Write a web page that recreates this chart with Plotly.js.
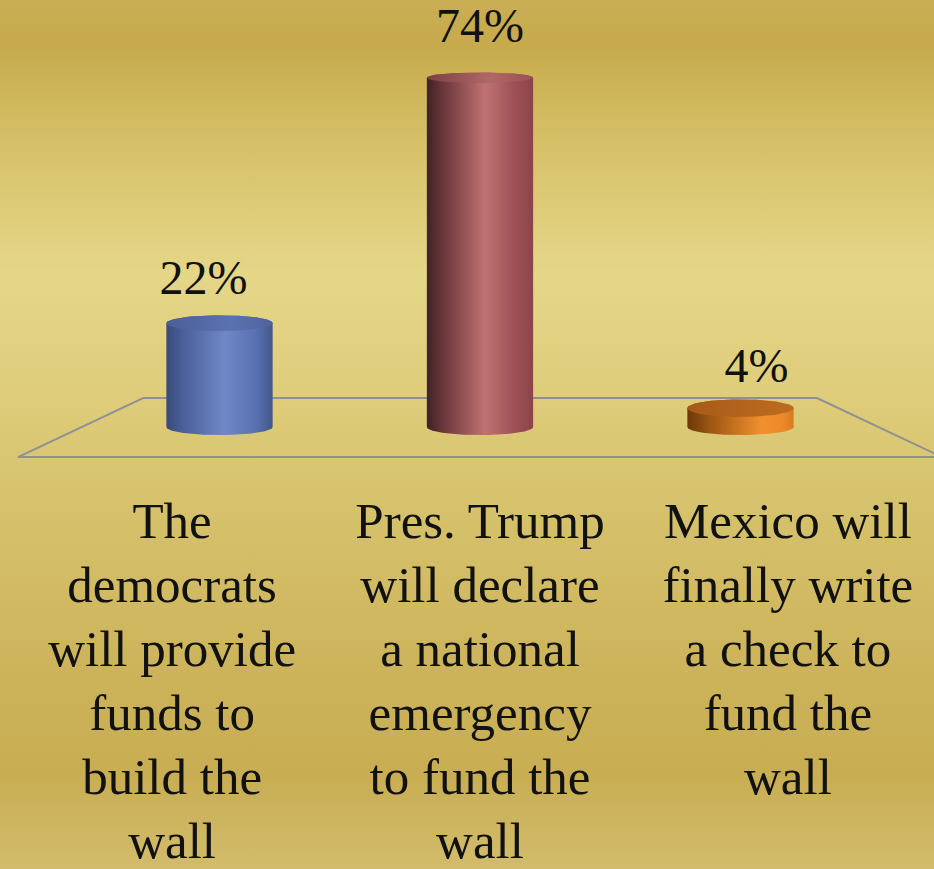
<!DOCTYPE html>
<html>
<head>
<meta charset="utf-8">
<script src="https://cdn.plot.ly/plotly-3.0.1.min.js"></script>
<style>html,body{margin:0;padding:0;background:#D5BF68;}#chart{width:934px;height:869px;}</style>
</head>
<body>
<div id="chart"></div>
<script>
// ---- data ----
const categories = [
  "The<br>democrats<br>will provide<br>funds to<br>build the<br>wall",
  "Pres. Trump<br>will declare<br>a national<br>emergency<br>to fund the<br>wall",
  "Mexico will<br>finally write<br>a check to<br>fund the<br>wall"
];
const values = [22, 74, 4];
const valueLabels = ["22%", "74%", "4%"];

// ---- styles ----
const bodyScales = [
  [[0,'#3A4A78'],[0.15,'#4A5E98'],[0.55,'#7088C8'],[0.85,'#5870B0'],[1,'#42578A']],
  [[0,'#3E2226'],[0.15,'#6A363A'],[0.55,'#C07272'],[0.8,'#A05358'],[1,'#8C4448']],
  [[0,'#6A3808'],[0.2,'#9A5412'],[0.7,'#F29030'],[0.9,'#EC8A28'],[1,'#D87A20']]
];
const capScales = [
  [[0,'#4A5F98'],[0.6,'#5A72B0'],[1,'#4E64A0']],
  [[0,'#7E4044'],[0.6,'#B06868'],[1,'#9A5054']],
  [[0,'#A85A18'],[1,'#BE6C20']]
];
const PXY = 4.72;           // pixels per y unit
const XR = [-0.8426, 2.7428];
const YR = [-93.64, 90.47];
const halfW = 0.204;

const traces = [];

// background gradient
traces.push({
  x: [XR[0], XR[1], XR[1], XR[0], XR[0]],
  y: [YR[0], YR[0], YR[1], YR[1], YR[0]],
  mode: 'lines', line: {width: 0}, fill: 'toself',
  fillgradient: {type: 'vertical', colorscale: [
    [0,'#D2BC6C'],[0.108,'#C8AD52'],[0.194,'#CBB158'],[0.356,'#D3BD66'],
    [0.471,'#D9C672'],[0.54,'#DECC7A'],[0.684,'#E5D688'],[0.827,'#D7C26A'],
    [0.948,'#C6AA4C'],[1,'#C9AE54']]},
  hoverinfo: 'skip'
});

// floor outline
const n = categories.length;
const backY = 6.14, frontY = -6.36;
traces.push({
  x: [-0.2937, n - 1 + 0.2937, n - 1 + 0.7735, -0.7735, -0.2937],
  y: [backY, backY, frontY, frontY, backY],
  mode: 'lines', line: {color: '#8E9096', width: 2}, hoverinfo: 'skip'
});

// cylinders
values.forEach((v, i) => {
  const ryB = 8 / PXY;
  const ryT = (9 - 0.05 * v) / PXY;
  const N = 60;
  const bx = [], by = [];
  for (let k = 0; k <= N; k++) {
    const t = Math.PI + Math.PI * k / N;
    bx.push(i + halfW * Math.cos(t));
    by.push(0 + ryB * Math.sin(t));
  }
  for (let k = 0; k <= N; k++) {
    const t = Math.PI * k / N;
    bx.push(i + halfW * Math.cos(t));
    by.push(v + ryT * Math.sin(t));
  }
  bx.push(bx[0]); by.push(by[0]);
  traces.push({
    x: bx, y: by, mode: 'lines', line: {width: 0}, fill: 'toself',
    fillgradient: {type: 'horizontal', colorscale: bodyScales[i]},
    hoverinfo: 'skip'
  });
  const cx = [], cy = [];
  for (let k = 0; k <= 2 * N; k++) {
    const t = 2 * Math.PI * k / (2 * N);
    cx.push(i + halfW * Math.cos(t));
    cy.push(v + ryT * Math.sin(t));
  }
  traces.push({
    x: cx, y: cy, mode: 'lines', line: {width: 0}, fill: 'toself',
    fillgradient: {type: 'horizontal', colorscale: capScales[i]},
    hoverinfo: 'skip'
  });
});

// value labels
traces.push({
  x: values.map((v, i) => i + (i - 1) * 16 / 260.5),
  y: values.map(v => v + 0.03 * v + 8),
  text: valueLabels,
  mode: 'text', textposition: 'middle center',
  textfont: {family: 'Liberation Serif', size: 48, color: '#111111'},
  cliponaxis: false, hoverinfo: 'skip'
});

// category labels (one text point per line)
const lx = [], ly = [], lt = [];
categories.forEach((c, i) => {
  c.split('<br>').forEach((line, k) => {
    lx.push(i + (i - 1) * 0.182);
    ly.push((427 - (525.5 + 64 * k)) / PXY);
    lt.push(line);
  });
});
traces.push({
  x: lx, y: ly, text: lt, mode: 'text', textposition: 'middle center',
  textfont: {family: 'Liberation Serif', size: 51, color: '#111111'},
  cliponaxis: false, hoverinfo: 'skip'
});

const layout = {
  width: 934, height: 869,
  margin: {l: 0, r: 0, t: 0, b: 0, pad: 0},
  paper_bgcolor: '#D5BF68', plot_bgcolor: 'rgba(0,0,0,0)',
  showlegend: false,
  xaxis: {range: XR, visible: false, fixedrange: true},
  yaxis: {range: YR, visible: false, fixedrange: true},
  hovermode: false
};
Plotly.newPlot('chart', traces, layout, {staticPlot: true, displayModeBar: false});
</script>
</body>
</html>
